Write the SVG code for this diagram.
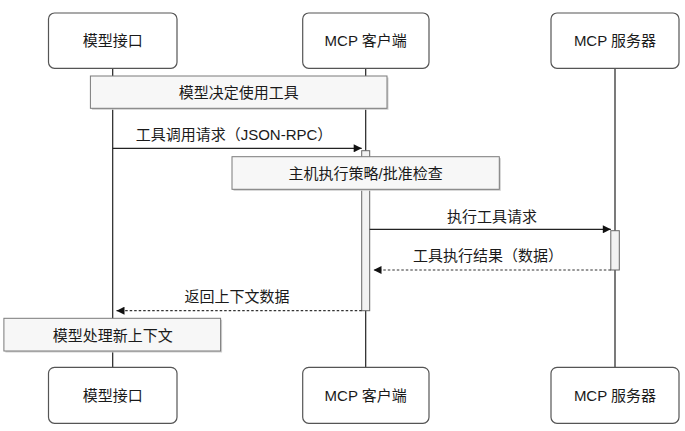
<svg xmlns="http://www.w3.org/2000/svg" width="685" height="431" viewBox="0 0 685 431">
<style>
text{font-family:"Liberation Sans","Noto Sans CJK SC",sans-serif;font-size:15px;fill:#1a1a1a;text-anchor:middle;dominant-baseline:central}
.actor{fill:#fff;stroke:#555;stroke-width:1.2}
.life{stroke:#222;stroke-width:1.2}
.note{fill:#f7f7f7;stroke:#7a7a7a;stroke-width:1}
.shadow{fill:#cfcfcf}
.act{fill:#f2f2f2;stroke:#666;stroke-width:1}
.msg{stroke:#222;stroke-width:1.2;fill:none}
.ret{stroke:#333;stroke-width:1.2;fill:none;stroke-dasharray:2.5,2}
</style>
<defs>
<marker id="ah" viewBox="0 0 10 10" refX="10" refY="5" markerWidth="9" markerHeight="8" markerUnits="userSpaceOnUse" orient="auto">
<path d="M0,0 L10,5 L0,10 z" fill="#111"/>
</marker>
</defs>
<g id="lifelines">
<line class="life" x1="112.7" y1="68" x2="112.7" y2="367"/>
<line class="life" x1="365.7" y1="68" x2="365.7" y2="367"/>
<line class="life" x1="615" y1="68" x2="615" y2="367"/>
</g>
<g id="actor-model-top"><rect class="actor" x="48.5" y="13" width="128.5" height="55.3" rx="6"/><text x="112.7" y="40.5">模型接口</text></g>
<g id="actor-client-top"><rect class="actor" x="302.7" y="13" width="126.3" height="55.3" rx="6"/><text x="365.7" y="40.5">MCP 客户端</text></g>
<g id="actor-server-top"><rect class="actor" x="551" y="13" width="128" height="55.3" rx="6"/><text x="615" y="40.5">MCP 服务器</text></g>
<g id="actor-model-bottom"><rect class="actor" x="48.5" y="367.3" width="128.5" height="56" rx="6"/><text x="112.7" y="395">模型接口</text></g>
<g id="actor-client-bottom"><rect class="actor" x="302.7" y="367.3" width="126.3" height="56" rx="6"/><text x="365.7" y="395">MCP 客户端</text></g>
<g id="actor-server-bottom"><rect class="actor" x="551" y="367.3" width="128" height="56" rx="6"/><text x="615" y="395">MCP 服务器</text></g>
<g id="activation-client"><rect class="act" x="361.7" y="150.7" width="8" height="160"/></g>
<g id="activation-server"><rect class="act" x="610.8" y="230.7" width="8.5" height="39.3"/></g>
<g id="note-decide"><rect class="shadow" x="91.9" y="77.5" width="296.6" height="32.3"/><rect class="note" x="90.4" y="76" width="296.6" height="32.3"/><text x="238.7" y="92.2">模型决定使用工具</text></g>
<g id="note-policy"><rect class="shadow" x="233.5" y="158.2" width="267.3" height="32.6"/><rect class="note" x="232" y="156.7" width="267.3" height="32.6"/><text x="365.7" y="173.3">主机执行策略/批准检查</text></g>
<g id="note-process"><rect class="shadow" x="5.4" y="319.8" width="216.7" height="32.7"/><rect class="note" x="3.9" y="318.3" width="216.7" height="32.7"/><text x="112.7" y="335">模型处理新上下文</text></g>
<g id="connectors">
<line class="msg" x1="112.7" y1="148.3" x2="361.7" y2="148.3" marker-end="url(#ah)"/>
<line class="msg" x1="369.7" y1="229.3" x2="610.8" y2="229.3" marker-end="url(#ah)"/>
<line class="ret" x1="610.8" y1="270" x2="373.5" y2="270" marker-end="url(#ah)"/>
<line class="ret" x1="361.7" y1="310.7" x2="116.5" y2="310.7" marker-end="url(#ah)"/>
</g>
<g id="labels">
<text x="234" y="134">工具调用请求（JSON-RPC）</text>
<text x="492" y="216">执行工具请求</text>
<text x="488" y="255.7">工具执行结果（数据）</text>
<text x="237" y="296">返回上下文数据</text>
</g>
</svg>
